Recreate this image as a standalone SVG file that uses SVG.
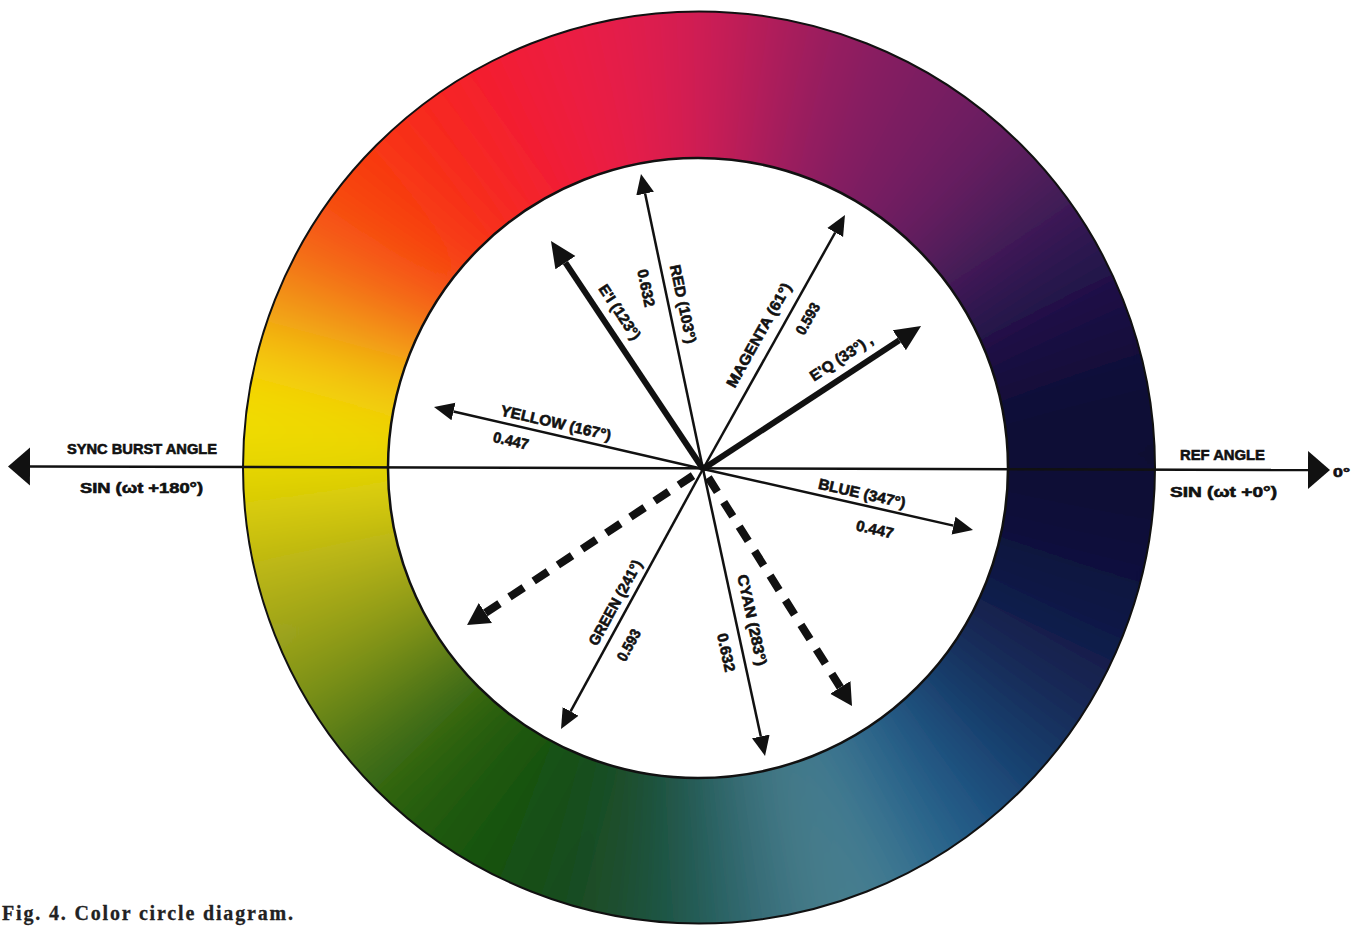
<svg xmlns="http://www.w3.org/2000/svg" width="1355" height="926" viewBox="0 0 1355 926">
<style>
.lb{font-family:"Liberation Sans",Arial,sans-serif;font-weight:bold;font-size:15px;fill:#111;stroke:#111;stroke-width:0.6}
.vl{font-family:"Liberation Sans",Arial,sans-serif;font-weight:bold;font-size:15px;fill:#111;stroke:#111;stroke-width:0.6;text-anchor:middle}
.cap{font-family:"Liberation Serif","Times New Roman",serif;font-weight:bold;font-size:20px;fill:#222;stroke:#222;stroke-width:0.3}
.thin{stroke:#111;stroke-width:2.5;fill:none;marker-end:url(#ah)}
.thick{stroke:#111;stroke-width:6;fill:none;marker-end:url(#ahb)}
.dash{stroke:#111;stroke-width:8;fill:none;stroke-dasharray:17 12;marker-end:url(#ahd)}
.axis{stroke:#111;stroke-width:2.5;fill:none;marker-start:url(#ahx);marker-end:url(#ahx)}
</style>
<defs>
<marker id="ah" markerUnits="userSpaceOnUse" viewBox="0 -10 22 20" markerWidth="22" markerHeight="20" refX="0" refY="0" orient="auto"><path d="M0,-9 L20,0 L0,9 Z" fill="#111"/></marker>
<marker id="ahb" markerUnits="userSpaceOnUse" viewBox="0 -13 28 26" markerWidth="28" markerHeight="26" refX="0" refY="0" orient="auto"><path d="M0,-12 L26,0 L0,12 Z" fill="#111"/></marker>
<marker id="ahd" markerUnits="userSpaceOnUse" viewBox="0 -13 24 26" markerWidth="24" markerHeight="26" refX="0" refY="0" orient="auto"><path d="M0,-12 L22,0 L0,12 Z" fill="#111"/></marker>
<marker id="ahx" markerUnits="userSpaceOnUse" viewBox="0 -20 24 40" markerWidth="24" markerHeight="40" refX="0" refY="0" orient="auto-start-reverse"><path d="M0,-19 L22,0 L0,19 Z" fill="#111"/></marker>
<clipPath id="outer"><circle cx="699" cy="467.5" r="456"/></clipPath>
<filter id="soft" filterUnits="userSpaceOnUse" x="-100" y="-350" width="1600" height="1650"><feGaussianBlur stdDeviation="44"/></filter>
</defs>
<rect width="1355" height="926" fill="#fff"/>
<g id="ring">
<g clip-path="url(#outer)">
<g filter="url(#soft)">
<g transform="translate(698,467) scale(1.3) translate(-698,-467)">
<polygon points="698,467 1235.9,514.1 1235.9,419.9" fill="#0a0a32"/>
<polygon points="698,467 1235.9,419.9 1219.6,327.2" fill="#0c0c36"/>
<polygon points="698,467 1219.6,327.2 1187.4,238.8" fill="#120f40"/>
<polygon points="698,467 1187.4,238.8 1140.3,157.3" fill="#261450"/>
<polygon points="698,467 1140.3,157.3 1079.8,85.2" fill="#4a1a5a"/>
<polygon points="698,467 1079.8,85.2 1007.7,24.7" fill="#6a1e60"/>
<polygon points="698,467 1007.7,24.7 926.2,-22.4" fill="#7a1e60"/>
<polygon points="698,467 926.2,-22.4 837.8,-54.6" fill="#8c1e60"/>
<polygon points="698,467 837.8,-54.6 745.1,-70.9" fill="#ac1c5a"/>
<polygon points="698,467 745.1,-70.9 650.9,-70.9" fill="#d01a52"/>
<polygon points="698,467 650.9,-70.9 558.2,-54.6" fill="#e41a4a"/>
<polygon points="698,467 558.2,-54.6 469.8,-22.4" fill="#ee1a3e"/>
<polygon points="698,467 469.8,-22.4 388.3,24.7" fill="#f41e2a"/>
<polygon points="698,467 388.3,24.7 316.2,85.2" fill="#f82a16"/>
<polygon points="698,467 316.2,85.2 255.7,157.3" fill="#f83c10"/>
<polygon points="698,467 255.7,157.3 208.6,238.8" fill="#f45814"/>
<polygon points="698,467 208.6,238.8 176.4,327.2" fill="#f09814"/>
<polygon points="698,467 176.4,327.2 160.1,419.9" fill="#f6e000"/>
<polygon points="698,467 160.1,419.9 160.1,514.1" fill="#e8d800"/>
<polygon points="698,467 160.1,514.1 176.4,606.8" fill="#c4bc10"/>
<polygon points="698,467 176.4,606.8 208.6,695.2" fill="#a2a61a"/>
<polygon points="698,467 208.6,695.2 255.7,776.7" fill="#789018"/>
<polygon points="698,467 255.7,776.7 316.2,848.8" fill="#3e6e14"/>
<polygon points="698,467 316.2,848.8 388.3,909.3" fill="#205c10"/>
<polygon points="698,467 388.3,909.3 469.8,956.4" fill="#185210"/>
<polygon points="698,467 469.8,956.4 558.2,988.6" fill="#184c14"/>
<polygon points="698,467 558.2,988.6 650.9,1004.9" fill="#1a4c2c"/>
<polygon points="698,467 650.9,1004.9 745.1,1004.9" fill="#1e5a50"/>
<polygon points="698,467 745.1,1004.9 837.8,988.6" fill="#3a7080"/>
<polygon points="698,467 837.8,988.6 926.2,956.4" fill="#4e8490"/>
<polygon points="698,467 926.2,956.4 1007.7,909.3" fill="#2c6a90"/>
<polygon points="698,467 1007.7,909.3 1079.8,848.8" fill="#1e5080"/>
<polygon points="698,467 1079.8,848.8 1140.3,776.7" fill="#183866"/>
<polygon points="698,467 1140.3,776.7 1187.4,695.2" fill="#122050"/>
<polygon points="698,467 1187.4,695.2 1219.6,606.8" fill="#0e1444"/>
<polygon points="698,467 1219.6,606.8 1235.9,514.1" fill="#0b0c38"/>
</g>
</g>
</g>
<circle cx="699" cy="467.5" r="456" fill="none" stroke="#111" stroke-width="2"/>
<circle cx="698" cy="468" r="310" fill="#fff" stroke="#111" stroke-width="2.5"/>
</g>
<g id="connectors">
<line id="axis" class="axis" x1="30" y1="466.5" x2="1308" y2="470"/>
<line id="v-red" class="thin" x1="703" y1="469" x2="645.1" y2="193.6"/>
<line id="v-ei" class="thick" x1="703" y1="469" x2="565.4" y2="262.6"/>
<line id="v-magenta" class="thin" x1="703" y1="469" x2="835.2" y2="232.5"/>
<line id="v-eq" class="thick" x1="703" y1="469" x2="899.3" y2="340.3"/>
<line id="v-yellow" class="thin" x1="703" y1="469" x2="453.5" y2="411.5"/>
<line id="v-blue" class="thin" x1="703" y1="469" x2="953.5" y2="525.6"/>
<line id="v-green" class="thin" x1="703" y1="469" x2="570.6" y2="711.4"/>
<line id="v-cyan" class="thin" x1="703" y1="469" x2="760.8" y2="736.4"/>
<line id="v-neg-eq" class="dash" x1="693" y1="475.6" x2="485.4" y2="612.9"/>
<line id="v-neg-ei" class="dash" x1="708.3" y1="477.5" x2="840.3" y2="687.4"/>
</g>
<g id="label-sync">
<text class="lb" x="67" y="454" textLength="150" lengthAdjust="spacingAndGlyphs">SYNC BURST ANGLE</text>
<text class="lb" x="80" y="493" textLength="123" lengthAdjust="spacingAndGlyphs">SIN (ωt +180°)</text>
</g>
<g id="label-ref">
<text class="lb" x="1180" y="460" textLength="85" lengthAdjust="spacingAndGlyphs">REF ANGLE</text>
<text class="lb" x="1170" y="497" textLength="107" lengthAdjust="spacingAndGlyphs">SIN (ωt +0°)</text>
<text class="lb" x="1333" y="477" textLength="17" lengthAdjust="spacingAndGlyphs" style="font-size:13px">0°</text>
</g>
<g id="label-red">
<text class="vl" transform="translate(683.5,304) rotate(78.1)" y="5.5" textLength="80" lengthAdjust="spacingAndGlyphs">RED (103°)</text>
<text class="vl" transform="translate(646.5,288) rotate(78.1)" y="5.5" textLength="38" lengthAdjust="spacingAndGlyphs">0.632</text>
</g>
<g id="label-ei">
<text class="vl" transform="translate(620,312) rotate(56.3)" y="5.5" textLength="63" lengthAdjust="spacingAndGlyphs">E'I (123°)</text>
</g>
<g id="label-magenta">
<text class="vl" transform="translate(758.5,335) rotate(-60.8)" y="5.5" textLength="117" lengthAdjust="spacingAndGlyphs">MAGENTA (61°)</text>
<text class="vl" transform="translate(807.5,318.5) rotate(-60.8)" y="5.5" textLength="34" lengthAdjust="spacingAndGlyphs">0.593</text>
</g>
<g id="label-eq">
<text class="vl" transform="translate(841,357.5) rotate(-33.3)" y="5.5" textLength="72" lengthAdjust="spacingAndGlyphs">E'Q (33°) ,</text>
</g>
<g id="label-yellow">
<text class="vl" transform="translate(556,422.5) rotate(13)" y="5.5" textLength="113" lengthAdjust="spacingAndGlyphs">YELLOW (167°)</text>
<text class="vl" transform="translate(511,440.5) rotate(13)" y="5.5" textLength="36" lengthAdjust="spacingAndGlyphs">0.447</text>
</g>
<g id="label-blue">
<text class="vl" transform="translate(862,493) rotate(12.7)" y="5.5" textLength="89" lengthAdjust="spacingAndGlyphs">BLUE (347°)</text>
<text class="vl" transform="translate(875,529) rotate(12.7)" y="5.5" textLength="38" lengthAdjust="spacingAndGlyphs">0.447</text>
</g>
<g id="label-green">
<text class="vl" transform="translate(615,602.5) rotate(-61.4)" y="5.5" textLength="95" lengthAdjust="spacingAndGlyphs">GREEN (241°)</text>
<text class="vl" transform="translate(628.5,645) rotate(-61.4)" y="5.5" textLength="34" lengthAdjust="spacingAndGlyphs">0.593</text>
</g>
<g id="label-cyan">
<text class="vl" transform="translate(752.5,620) rotate(77.8)" y="5.5" textLength="93" lengthAdjust="spacingAndGlyphs">CYAN (283°)</text>
<text class="vl" transform="translate(726.5,652.5) rotate(77.8)" y="5.5" textLength="39" lengthAdjust="spacingAndGlyphs">0.632</text>
</g>
<g id="caption">
<text class="cap" x="2" y="920" textLength="291">Fig. 4. Color circle diagram.</text>
</g>
</svg>
